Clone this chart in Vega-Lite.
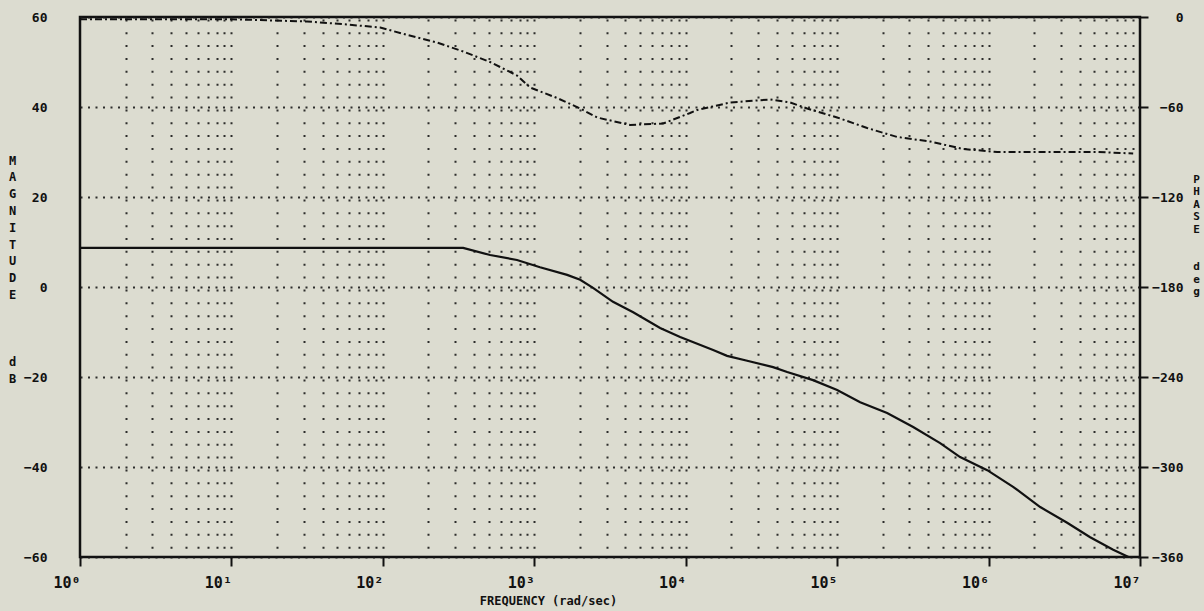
{
  "$schema": "https://vega.github.io/schema/vega-lite/v6.json",
  "width": 1060,
  "height": 540,
  "autosize": {"type": "none"},
  "padding": {"left": 80, "top": 17, "right": 64, "bottom": 54},
  "background": "#dcdcd0",
  "config": {
    "view": {"stroke": "#111111", "strokeWidth": 2.5},
    "font": "DejaVu Sans Mono",
    "axis": {"labelColor": "#111111", "titleColor": "#111111", "labelFont": "DejaVu Sans Mono", "titleFont": "DejaVu Sans Mono"}
  },
  "datasets": {
    "magnitude": [
      {"f": 1, "db": 8.7},
      {"f": 10, "db": 8.7},
      {"f": 100, "db": 8.7},
      {"f": 339, "db": 8.7},
      {"f": 511, "db": 7.1},
      {"f": 769, "db": 6.0},
      {"f": 1091, "db": 4.4},
      {"f": 1648, "db": 2.7},
      {"f": 2009, "db": 1.6},
      {"f": 2443, "db": -0.2},
      {"f": 3311, "db": -3.3},
      {"f": 4498, "db": -5.6},
      {"f": 6776, "db": -9.1},
      {"f": 9183, "db": -11.1},
      {"f": 15171, "db": -14.0},
      {"f": 18750, "db": -15.3},
      {"f": 25468, "db": -16.4},
      {"f": 37757, "db": -17.8},
      {"f": 46774, "db": -18.9},
      {"f": 69343, "db": -20.7},
      {"f": 100000, "db": -22.9},
      {"f": 141906, "db": -25.6},
      {"f": 213796, "db": -28.0},
      {"f": 317687, "db": -31.1},
      {"f": 478630, "db": -34.7},
      {"f": 648634, "db": -37.8},
      {"f": 979490, "db": -40.7},
      {"f": 1452112, "db": -44.4},
      {"f": 2192805, "db": -48.9},
      {"f": 3303695, "db": -52.4},
      {"f": 4688134, "db": -55.6},
      {"f": 6652726, "db": -58.4},
      {"f": 8400000, "db": -60.0}
    ],
    "phase": [
      {"f": 1, "deg": -1.5},
      {"f": 10, "deg": -1.5},
      {"f": 31.6, "deg": -3},
      {"f": 58, "deg": -5},
      {"f": 96, "deg": -7},
      {"f": 145, "deg": -12},
      {"f": 228, "deg": -17},
      {"f": 339, "deg": -23},
      {"f": 511, "deg": -30},
      {"f": 769, "deg": -39},
      {"f": 938, "deg": -47},
      {"f": 1415, "deg": -54},
      {"f": 2009, "deg": -61},
      {"f": 2600, "deg": -67},
      {"f": 4295, "deg": -72},
      {"f": 7096, "deg": -71},
      {"f": 10690, "deg": -64},
      {"f": 11890, "deg": -62},
      {"f": 19630, "deg": -57},
      {"f": 36060, "deg": -55},
      {"f": 48960, "deg": -57},
      {"f": 63400, "deg": -61},
      {"f": 100000, "deg": -67},
      {"f": 157800, "deg": -74},
      {"f": 249000, "deg": -80},
      {"f": 411400, "deg": -83},
      {"f": 679200, "deg": -88},
      {"f": 1140000, "deg": -90},
      {"f": 2438000, "deg": -90},
      {"f": 5212000, "deg": -90},
      {"f": 9016000, "deg": -91}
    ]
  },
  "layer": [
    {
      "data": {"name": "magnitude"},
      "mark": {"type": "line", "color": "#111111", "strokeWidth": 2.2},
      "encoding": {
        "x": {
          "field": "f",
          "type": "quantitative",
          "scale": {"type": "log", "domain": [1, 10000000], "nice": false},
          "axis": {
            "orient": "top",
            "values": [2,3,4,5,6,7,8,9,10,20,30,40,50,60,70,80,90,100,200,300,400,500,600,700,800,900,1000,2000,3000,4000,5000,6000,7000,8000,9000,10000,20000,30000,40000,50000,60000,70000,80000,90000,100000,200000,300000,400000,500000,600000,700000,800000,900000,1000000,2000000,3000000,4000000,5000000,6000000,7000000,8000000,9000000],
            "grid": true,
            "gridDash": [2, 10.86],
            "gridDashOffset": 4,
            "gridWidth": 2,
            "gridColor": "#1a1a1a",
            "gridOpacity": 0.9,
            "labels": false,
            "ticks": false,
            "domain": false,
            "title": null
          }
        },
        "y": {
          "field": "db",
          "type": "quantitative",
          "scale": {"domain": [-60, 60], "nice": false},
          "axis": {
            "orient": "left",
            "values": [-60, -40, -20, 0, 20, 40, 60],
            "grid": true,
            "gridDash": [2, 5.5],
            "gridWidth": 2,
            "gridColor": "#1a1a1a",
            "gridOpacity": 0.9,
            "ticks": false,
            "domain": false,
            "labelPadding": 33,
            "labelFontSize": 13,
            "labelFontWeight": "bold",
            "labelFlush": false,
            "labelOverlap": false,
            "title": ["M", "A", "G", "N", "I", "T", "U", "D", "E", "\u2800", "\u2800", "\u2800", "d", "B"],
            "titleAngle": 0,
            "titleX": -68,
            "titleY": 138,
            "titleAlign": "center",
            "titleBaseline": "top",
            "titleFontSize": 12,
            "titleFontWeight": "bold",
            "titleLineHeight": 16.8
          }
        }
      }
    },
    {
      "data": {"name": "phase"},
      "mark": {"type": "line", "color": "#111111", "strokeWidth": 2, "strokeDash": [7, 3, 2, 3]},
      "encoding": {
        "x": {
          "field": "f",
          "type": "quantitative",
          "scale": {"type": "log", "domain": [1, 10000000], "nice": false},
          "axis": {
            "orient": "bottom",
            "values": [1, 10, 100, 1000, 10000, 100000, 1000000, 10000000],
            "grid": false,
            "ticks": true,
            "tickSize": 9,
            "tickWidth": 2,
            "tickColor": "#111111",
            "domain": false,
            "labelExpr": "'10' + substring('⁰¹²³⁴⁵⁶⁷', round(log(datum.value) / LN10), round(log(datum.value) / LN10) + 1)",
            "labelAlign": "right",
            "labelDx": 5,
            "labelPadding": 9,
            "labelFontSize": 15,
            "labelFontWeight": "bold",
            "labelFlush": false,
            "labelOverlap": false,
            "title": "FREQUENCY (rad/sec)",
            "titleX": 468,
            "titleY": 47,
            "titleAlign": "center",
            "titleBaseline": "alphabetic",
            "titleFontSize": 12,
            "titleFontWeight": "bold"
          }
        },
        "y": {
          "field": "deg",
          "type": "quantitative",
          "scale": {"domain": [-360, 0], "nice": false},
          "axis": {
            "orient": "right",
            "values": [0, -60, -120, -180, -240, -300, -360],
            "grid": false,
            "ticks": true,
            "tickSize": 8,
            "tickWidth": 2,
            "tickColor": "#111111",
            "domain": false,
            "labelAlign": "right",
            "labelPadding": 35,
            "labelFontSize": 13,
            "labelFontWeight": "bold",
            "labelFlush": false,
            "labelOverlap": false,
            "title": ["P", "H", "A", "S", "E", "\u2800", "\u2800", "d", "e", "g"],
            "titleAngle": 0,
            "titleX": 56,
            "titleY": 156,
            "titleAlign": "center",
            "titleBaseline": "top",
            "titleFontSize": 11,
            "titleFontWeight": "bold",
            "titleLineHeight": 12.5
          }
        }
      }
    }
  ],
  "resolve": {"scale": {"y": "independent"}, "axis": {"x": "independent", "y": "independent"}}
}
